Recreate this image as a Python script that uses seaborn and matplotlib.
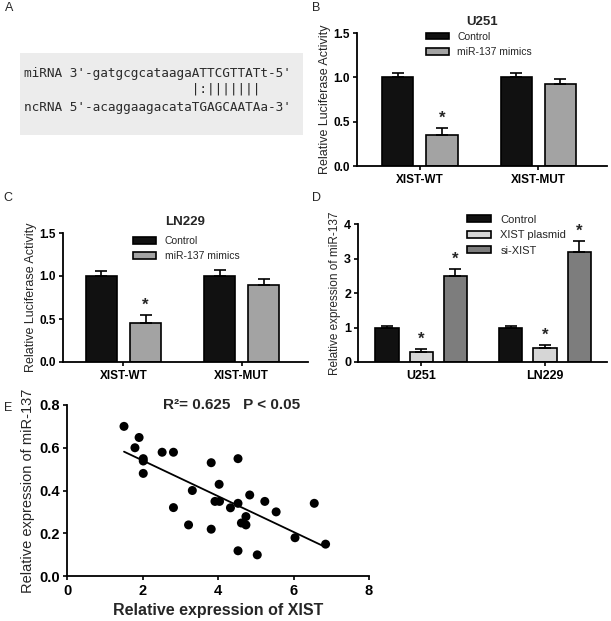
import matplotlib
matplotlib.use("Agg")
import matplotlib.pyplot as plt
from matplotlib.patches import Rectangle
import numpy as np
import pandas as pd
import seaborn as sns

# ======================
# Data
# ======================
# A: sequence alignment
mirna_line = "miRNA 3'-gatgcgcataagaATTCGTTATt-5'"
pair_line = " " * 22 + "|:|||||||"
ncrna_line = "ncRNA 5'-acaggaagacataTGAGCAATAa-3'"

# B / C: luciferase assay
luc_groups = ["XIST-WT", "XIST-MUT"]
luc_hues = ["Control", "miR-137 mimics"]
u251_control = [1.00, 1.00]
u251_control_err = [0.05, 0.05]
u251_mimics = [0.35, 0.92]
u251_mimics_err = [0.08, 0.06]
ln229_control = [1.00, 1.00]
ln229_control_err = [0.06, 0.07]
ln229_mimics = [0.45, 0.90]
ln229_mimics_err = [0.10, 0.06]

# D: miR-137 expression
expr_groups = ["U251", "LN229"]
expr_hues = ["Control", "XIST plasmid", "si-XIST"]
expr_control = [1.00, 1.00]
expr_control_err = [0.05, 0.03]
expr_plasmid = [0.30, 0.40]
expr_plasmid_err = [0.07, 0.10]
expr_si = [2.50, 3.20]
expr_si_err = [0.20, 0.30]

# E: correlation
xist_expr = [1.51, 1.91, 1.80, 2.02, 2.02, 2.02, 2.52, 2.82, 2.82, 3.32,
             3.22, 3.82, 3.82, 4.03, 3.92, 4.04, 4.33, 4.53, 4.53, 4.53,
             4.62, 4.74, 4.74, 4.84, 5.04, 5.24, 5.54, 6.04, 6.55, 6.85]
mir137_expr = [0.70, 0.648, 0.60, 0.549, 0.538, 0.48, 0.579, 0.579, 0.32, 0.40,
               0.239, 0.53, 0.219, 0.429, 0.349, 0.349, 0.319, 0.549, 0.34, 0.118,
               0.248, 0.239, 0.278, 0.379, 0.099, 0.349, 0.30, 0.179, 0.34, 0.149]

W, H = 611, 621

sns.set_style("ticks")
plt.rcParams['font.family'] = ['Liberation Sans', 'DejaVu Sans']
plt.rcParams['axes.linewidth'] = 1.3
plt.rcParams['xtick.major.width'] = 1.2
plt.rcParams['ytick.major.width'] = 1.2
plt.rcParams['xtick.major.size'] = 3
plt.rcParams['ytick.major.size'] = 3
plt.rcParams['xtick.major.pad'] = 2.5
plt.rcParams['ytick.major.pad'] = 2
plt.rcParams['xtick.color'] = 'black'
plt.rcParams['ytick.color'] = 'black'
plt.rcParams['axes.edgecolor'] = 'black'


def rect(left, top, right, bottom):
    return [left / W, 1 - bottom / H, (right - left) / W, (bottom - top) / H]


def bar_panel(ax, groups, hues, means, errs, colors, stars, xlim, width, gap,
              ylim, yticks, yticklabels, ylabel, title, tick_fs, label_fs,
              legend_fs, legend_anchor):
    rows = []
    for h, vals in zip(hues, means):
        for g, v in zip(groups, vals):
            rows.append({"group": g, "hue": h, "value": v})
    df = pd.DataFrame(rows)
    sns.barplot(data=df, x="group", y="value", hue="hue", order=groups,
                hue_order=hues, palette=colors, width=width, gap=gap,
                errorbar=None, edgecolor="black", linewidth=1.2, ax=ax,
                zorder=2)
    for cont, err_list, star_list in zip(ax.containers, errs, stars):
        for bar, e, s in zip(cont, err_list, star_list):
            xc = bar.get_x() + bar.get_width() / 2
            hgt = bar.get_height()
            ax.errorbar(xc, hgt, yerr=[[0], [e]], fmt='none', ecolor='black',
                        elinewidth=1.2, capsize=4, capthick=1.2, zorder=3)
            if s:
                ax.text(xc, hgt + e + (ylim[1] - ylim[0]) * 0.015, "*",
                        ha='center', va='bottom', fontsize=12,
                        fontweight='bold')
    ax.set_xlim(*xlim)
    ax.set_ylim(*ylim)
    ax.set_yticks(yticks)
    ax.set_yticklabels(yticklabels)
    ax.set_xlabel("")
    ax.set_ylabel(ylabel, fontsize=label_fs, labelpad=2)
    if title:
        ax.set_title(title, fontsize=9.5, fontweight='bold', pad=6)
    for lbl in ax.get_xticklabels() + ax.get_yticklabels():
        lbl.set_fontweight('bold')
        lbl.set_fontsize(tick_fs)
    sns.despine(ax=ax)
    ax.spines['left'].set_bounds(ylim[0], ylim[1])
    handles, labels = ax.get_legend_handles_labels()
    ax.legend(handles, labels, loc='upper left', bbox_to_anchor=legend_anchor,
              frameon=False, fontsize=legend_fs, handlelength=2.2,
              handleheight=0.6, handletextpad=0.8, labelspacing=0.5,
              borderaxespad=0)


fig = plt.figure(figsize=(W / 100, H / 100), dpi=100)

# ---------------- A ----------------
fig.add_artist(Rectangle((20 / W, 1 - 135 / H), 283 / W, 82 / H,
                         transform=fig.transFigure, facecolor='#ececec',
                         edgecolor='none'))
for txt, ypx in [(mirna_line, 73), (pair_line, 89), (ncrna_line, 107)]:
    fig.text(24 / W, 1 - ypx / H, txt, family='DejaVu Sans Mono',
             fontsize=9.2, color='#2b2b2b', va='center', ha='left')

# ---------------- B ----------------
axB = fig.add_axes(rect(357, 33, 607, 166))
bar_panel(axB, luc_groups, luc_hues, [u251_control, u251_mimics],
          [u251_control_err, u251_mimics_err], ['#111111', '#a3a3a3'],
          [[False, False], [True, False]], (-0.53, 1.58), 0.75, 0.3,
          (0, 1.5), [0, 0.5, 1.0, 1.5], ["0.0", "0.5", "1.0", "1.5"],
          "Relative Luciferase Activity", "U251", 8.5, 9, 7.5, (0.26, 1.04))

# ---------------- C ----------------
axC = fig.add_axes(rect(63, 233, 308, 362))
bar_panel(axC, luc_groups, luc_hues, [ln229_control, ln229_mimics],
          [ln229_control_err, ln229_mimics_err], ['#111111', '#a3a3a3'],
          [[False, False], [True, False]], (-0.51, 1.56), 0.75, 0.3,
          (0, 1.5), [0, 0.5, 1.0, 1.5], ["0.0", "0.5", "1.0", "1.5"],
          "Relative Luciferase Activity", "LN229", 8.5, 9, 7.5, (0.27, 1.01))

# ---------------- D ----------------
axD = fig.add_axes(rect(358, 224, 607, 362))
bar_panel(axD, expr_groups, expr_hues, [expr_control, expr_plasmid, expr_si],
          [expr_control_err, expr_plasmid_err, expr_si_err],
          ['#111111', '#d6d6d6', '#7d7d7d'],
          [[False, False], [True, True], [True, True]], (-0.51, 1.50), 0.83,
          0.32, (0, 4), [0, 1, 2, 3, 4], ["0", "1", "2", "3", "4"],
          "Relative expression of miR-137", None, 9, 8.5, 8, (0.42, 1.1))

# ---------------- E ----------------
axE = fig.add_axes(rect(67, 405, 369, 576))
sns.regplot(x=np.array(xist_expr), y=np.array(mir137_expr), ci=None,
            truncate=True, ax=axE,
            scatter_kws=dict(s=42, color='black', edgecolor='none', alpha=1),
            line_kws=dict(color='black', lw=1.3))
axE.set_xlim(0, 8)
axE.set_ylim(0, 0.8)
axE.set_xticks([0, 2, 4, 6, 8])
axE.set_yticks([0, 0.2, 0.4, 0.6, 0.8])
axE.set_yticklabels(["0.0", "0.2", "0.4", "0.6", "0.8"])
axE.set_xlabel("Relative expression of XIST", fontsize=11.5,
               fontweight='bold', labelpad=4)
axE.set_ylabel("Relative expression of miR-137", fontsize=10.5, labelpad=3)
for lbl in axE.get_xticklabels() + axE.get_yticklabels():
    lbl.set_fontweight('bold')
    lbl.set_fontsize(10.5)
axE.text(4.35, 0.80, "R²= 0.625   P < 0.05", ha='center', va='center',
         fontsize=11, fontweight='bold')
sns.despine(ax=axE)

# panel letters
for letter, xpx, ypx in [("A", 9, 8), ("B", 316, 8), ("C", 8, 198),
                         ("D", 316, 198), ("E", 8, 408)]:
    fig.text(xpx / W, 1 - ypx / H, letter, fontsize=9, ha='center',
             va='center')

fig.savefig("out.png", dpi=100)
